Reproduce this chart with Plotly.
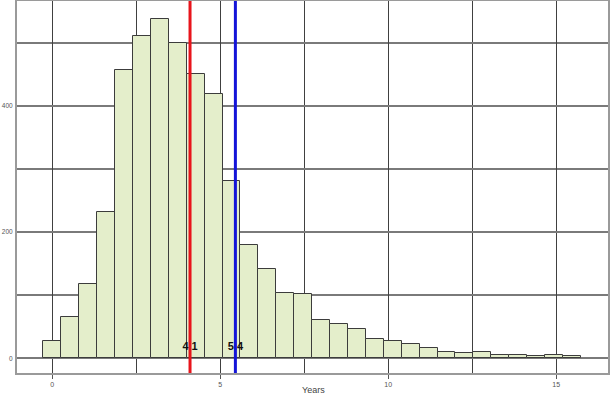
import plotly.graph_objects as go

# Histogram data (bin width ~0.533 years, first bin centred at 0)
bin_width = 16 / 30
counts = [27, 65, 117, 232, 456, 510, 538, 499, 451, 418, 281, 179, 142, 103, 102,
          60, 55, 46, 31, 28, 22, 17, 10, 8, 10, 6, 6, 4, 5, 3]
bin_centers = [i * bin_width for i in range(len(counts))]

line_values = [4.1, 5.45]
line_labels = ["<b>4.1</b>", "<b>5.4</b>"]
line_colors = ["#e8141b", "#1414d8"]

x_tickvals = [0, 5, 10, 15]
y_tickvals = [0, 200, 400]

fig = go.Figure()
fig.add_trace(go.Bar(
    x=bin_centers, y=counts, width=bin_width,
    marker=dict(color="#e4eecb", line=dict(color="#3c3c3c", width=1)),
    showlegend=False, hoverinfo="skip",
))
fig.add_trace(go.Scatter(
    x=line_values, y=[18, 18], mode="text", text=line_labels,
    textfont=dict(family="Arial", size=11, color="#111111"),
    textposition="middle center", showlegend=False, hoverinfo="skip",
))
for v, c in zip(line_values, line_colors):
    fig.add_trace(go.Scatter(
        x=[v, v], y=[-30, 600], mode="lines",
        line=dict(color=c, width=3), showlegend=False, hoverinfo="skip",
    ))

fig.update_layout(
    width=612, height=399,
    margin=dict(l=17, r=4, t=1, b=26),
    paper_bgcolor="white", plot_bgcolor="white",
    bargap=0,
    font=dict(family="Arial", size=7, color="#555555"),
    annotations=[dict(
        text="Years", x=(300 - 17) / 591, y=-17 / 372, xref="paper", yref="paper",
        xanchor="left", yanchor="middle", showarrow=False,
        font=dict(family="Arial", size=9, color="#444444"),
    )],
)
fig.update_xaxes(
    range=[-1.05, 16.54], tickvals=x_tickvals, ticktext=[str(v) for v in x_tickvals],
    tickfont=dict(size=7),
    showgrid=True, gridcolor="#404040", gridwidth=1,
    minor=dict(dtick=2.5, tick0=0, showgrid=True, gridcolor="#404040", gridwidth=1),
    ticks="outside", ticklen=4, tickcolor="#555555",
    showline=True, mirror=True, linecolor="#9a9a9a", linewidth=2,
    zeroline=False, automargin=False,
)
fig.update_yaxes(
    range=[-23.3, 565.9], tickvals=y_tickvals, ticktext=[str(v) for v in y_tickvals],
    tickfont=dict(size=6.5),
    showgrid=True, gridcolor="#7a7a7a", gridwidth=1.5,
    minor=dict(dtick=100, tick0=0, showgrid=True, gridcolor="#7a7a7a", gridwidth=1.5),
    ticks="", ticklabelstandoff=1,
    showline=True, mirror=True, linecolor="#9a9a9a", linewidth=2,
    zeroline=False, automargin=False,
)

fig.write_html("out.html")
